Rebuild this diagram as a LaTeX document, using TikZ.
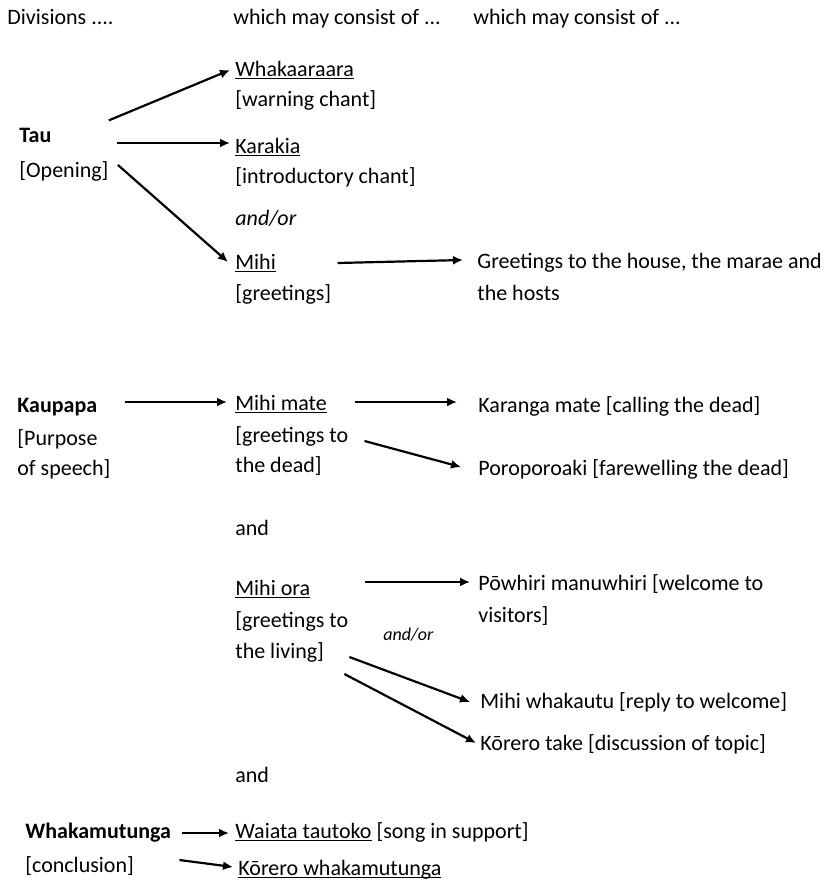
\documentclass[tikz,border=0pt]{standalone}
\usepackage{fontspec}
\setmainfont{Carlito}
\usetikzlibrary{arrows.meta,calc}

\newcommand{\ulword}[1]{\underline{\smash{#1}}}

\begin{document}
\begin{tikzpicture}[x=0.5pt,y=-0.5pt,>={Latex[length=5pt,width=4.5pt]},
    every node/.style={inner sep=0pt,anchor=base west,font=\fontsize{11}{13}\selectfont},
    arr/.style={->,line width=1.1pt}]
    \useasboundingbox (0,0) rectangle (836,880);
    % headings
    \node (hdA) at (7,24) {Divisions ....};
    \node (hdB) at (233,24) {which may consist of ...};
    \node (hdC) at (473,24) {which may consist of ...};
    % Tau
    \node (tau) at (19,142) {\textbf{Tau}};
    \node (opening) at (19,177) {[Opening]};
    \node (whak) at (235,76) {\ulword{Whakaaraara}};
    \node (whakB) at (235,106) {[warning chant]};
    \node (kara) at (235,153) {\ulword{Karakia}};
    \node (karaB) at (235,183) {[introductory chant]};
    \node (andor) at (235,225) {\itshape and/or};
    \node (mihi) at (235,269) {\ulword{Mihi}};
    \node (mihiB) at (235,300) {[greetings]};
    \node (greet) at (477,268) {Greetings to the house, the marae and};
    \node (greetB) at (477,300) {the hosts};
    % Kaupapa
    \node (kau) at (17,412) {\textbf{Kaupapa}};
    \node (purp) at (17,445) {[Purpose};
    \node (purpB) at (17,475) {of speech]};
    \node (mmate) at (235,410) {\ulword{Mihi mate}};
    \node (mmB) at (235,442) {[greetings to};
    \node (mmC) at (235,472) {the dead]};
    \node (kar) at (478,412) {Karanga mate [calling the dead]};
    \node (poro) at (478,475) {Poroporoaki [farewelling the dead]};
    \node (and1) at (235,535) {and};
    \node (mora) at (235,595) {\ulword{Mihi ora}};
    \node (moraB) at (235,627) {[greetings to};
    \node (moraC) at (235,658) {the living]};
    \node (andor2) at (383,640) {\fontsize{9}{11}\selectfont\itshape and/or};
    \node (pow) at (478,590) {Pōwhiri manuwhiri [welcome to};
    \node (powB) at (478,622) {visitors]};
    \node (mwh) at (480,708) {Mihi whakautu [reply to welcome]};
    \node (kt) at (480,750) {Kōrero take [discussion of topic]};
    \node (and2) at (235,782) {and};
    % Whakamutunga
    \node (wm) at (25,838) {\textbf{Whakamutunga}};
    \node (concl) at (25,872) {[conclusion]};
    \node (wt) at (235,838) {\ulword{Waiata tautoko} [song in support]};
    \node (kw) at (238,875) {\ulword{Kōrero whakamutunga}};
    % arrows
    \draw[arr] ($(opening.east |- tau.north)+(0,-7)$) -- ($(whak.base west)+(-5,-6)$);
    \draw[arr] ($(opening.east |- kara.base)+(8,-10)$) -- ($(kara.base west)+(-5,-10)$);
    \draw[arr] ($(opening.east)+(9,-6)$) -- ($(mihi.base west)+(-7,-7)$);
    \draw[arr] ($(mihiB.east |- mihi.base)+(6,-6)$) -- ($(greet.base west)+(-14,-8)$);
    \draw[arr] ($(purpB.east |- kau.base)+(14,-10)$) -- ($(mmate.base west)+(-8,-8)$);
    \draw[arr] ($(mmate.base east)+(28,-8)$) -- ($(kar.base west)+(-21,-10)$);
    \draw[arr] ($(mmB.base east)+(16,-1)$) -- ($(poro.base west)+(-17,-8)$);
    \draw[arr] ($(moraB.east |- mora.base)+(16,-13)$) -- ($(pow.base west)+(-8,-8)$);
    \draw[arr] ($(moraC.base east)+(25,-1)$) -- ($(mwh.base west)+(-10,-6)$);
    \draw[arr] ($(moraC.base east)+(20,16)$) -- ($(kt.base west)+(-4,-7)$);
    \draw[arr] ($(wm.base east)+(11,-5)$) -- ($(wt.base west)+(-6,-5)$);
    \draw[arr] ($(wm.east |- concl.base)+(8,-12)$) -- ($(kw.base west)+(-5,-8)$);
\end{tikzpicture}
\end{document}
